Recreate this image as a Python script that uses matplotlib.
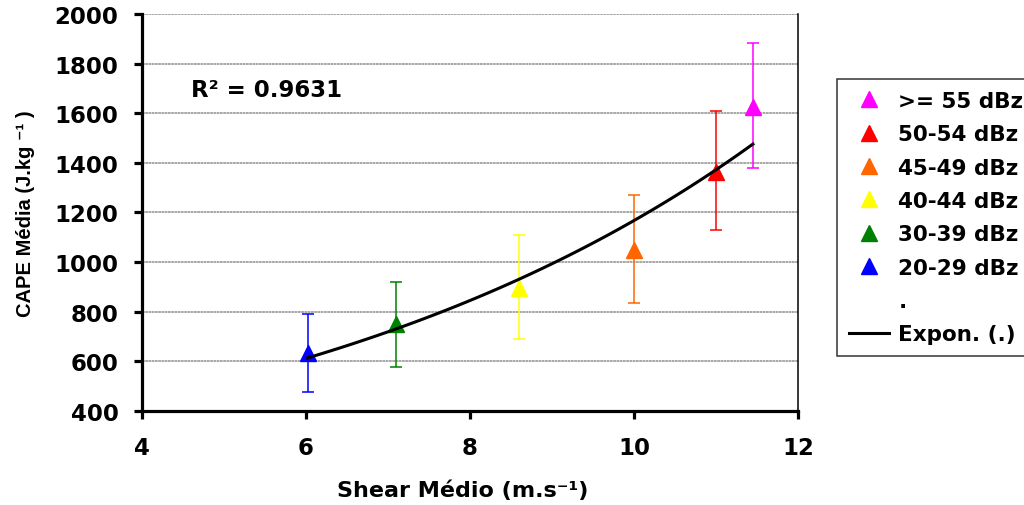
import matplotlib.pyplot as plt
import numpy as np

plt.rcParams['font.family'] = ['DejaVu Sans']
plt.rcParams['font.weight'] = 'bold'

labels = [">= 55 dBz", "50-54 dBz", "45-49 dBz", "40-44 dBz", "30-39 dBz", "20-29 dBz"]
colors = ["#ff00ff", "#ff0000", "#ff6600", "#ffff00", "#008000", "#0000ff"]
shear = [11.45, 11.0, 10.0, 8.6, 7.1, 6.02]
cape = [1625, 1365, 1050, 895, 750, 632]
err_low = [1380, 1130, 835, 690, 578, 478]
err_high = [1885, 1610, 1270, 1110, 920, 792]

fs = 16.5

fig = plt.figure(figsize=(10.24, 5.06), dpi=100)
ax = fig.add_axes([0.1387, 0.1858, 0.6406, 0.7846])

for x, y, lo, hi, c, lab in zip(shear, cape, err_low, err_high, colors, labels):
    ax.errorbar([x], [y], yerr=[[y - lo], [hi - y]], fmt='none', ecolor=c,
                elinewidth=1.1, capsize=4.5, capthick=1.1, zorder=3)
    ax.plot([x], [y], marker='^', ms=11.5, color=c, ls='none', label=lab, zorder=4)

# entrada vazia da legenda
ax.plot([], [], ls='none', label='.')

# linha de tendencia exponencial
xs = np.array(shear)
ys = np.array(cape)
b, lna = np.polyfit(xs, np.log(ys), 1)
xf = np.linspace(xs.min(), xs.max(), 100)
ax.plot(xf, np.exp(lna) * np.exp(b * xf), color='black', lw=2.2, label='Expon. (.)', zorder=5)

ax.set_xlim(4, 12)
ax.set_ylim(400, 2000)
ax.set_xticks([4, 6, 8, 10, 12])
ax.set_yticks(range(400, 2001, 200))
ax.yaxis.grid(True, color='#a0a0a0', lw=1.3, ls=(0, (1.5, 0.3)))
ax.set_axisbelow(True)

for s in ['left', 'bottom']:
    ax.spines[s].set_linewidth(2.3)
ax.spines['top'].set_visible(False)
ax.spines['right'].set_linewidth(1.1)
ax.tick_params(axis='both', direction='out', width=2.3, length=6, labelsize=fs, pad=11)
ax.tick_params(axis='x', pad=12)

ax.set_xlabel('Shear Médio (m.s⁻¹)', fontsize=16, fontweight='bold')
ax.xaxis.set_label_coords(0.489, -0.172)
ax.set_ylabel('CAPE Média (J.kg ⁻¹ )', fontsize=14.5, fontweight='bold',
              family=['Liberation Sans', 'DejaVu Sans'])
ax.yaxis.set_label_coords(-0.163, 0.5)

ax.text(0.0747, 0.7935, 'R² = 0.9631', transform=ax.transAxes, fontsize=fs,
        fontweight='bold', va='baseline')

leg = ax.legend(loc='upper left', bbox_to_anchor=(837 / 1024, 1 - 80 / 506),
                bbox_transform=fig.transFigure, borderaxespad=0, frameon=True,
                fancybox=False, edgecolor='black', fontsize=15.5, handlelength=1.85,
                handletextpad=0.45, labelspacing=0.62, borderpad=0.55)
leg.get_frame().set_linewidth(1.1)

fig.savefig('out.png', dpi=100)
